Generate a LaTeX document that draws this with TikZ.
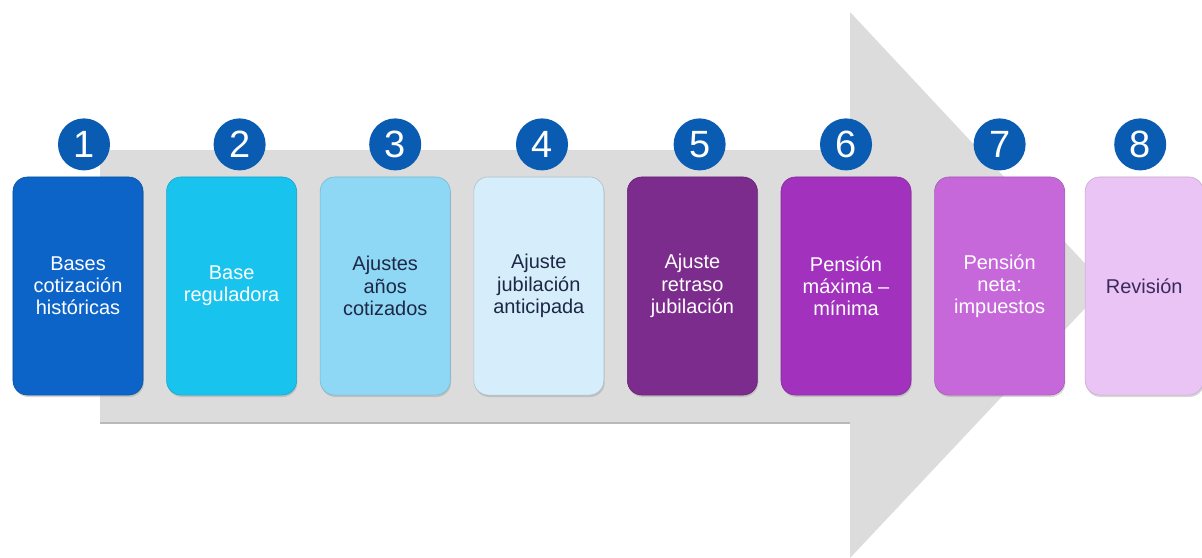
\documentclass[tikz,border=0pt]{standalone}
\usepackage{fontspec}
\setmainfont{Liberation Sans}
\usepackage{tikz}
\usetikzlibrary{positioning,shadows}

\definecolor{arrowgray}{RGB}{220,220,220}
\definecolor{numblue}{RGB}{10,92,178}
\definecolor{stepA}{RGB}{12,100,200}
\definecolor{stepB}{RGB}{24,195,238}
\definecolor{stepC}{RGB}{142,216,245}
\definecolor{stepD}{RGB}{214,238,251}
\definecolor{stepE}{RGB}{124,44,140}
\definecolor{stepF}{RGB}{162,50,190}
\definecolor{stepG}{RGB}{198,104,218}
\definecolor{stepH}{RGB}{234,196,244}
\definecolor{darktext}{RGB}{30,40,70}

\begin{document}
\begin{tikzpicture}[x=0.025cm, y=-0.025cm, node distance=0.575cm,
	stepbox/.style={rounded corners=0.36cm, minimum width=3.25cm, minimum height=5.45cm,
		align=center, inner sep=2pt, font=\fontsize{14.2}{15.8}\selectfont,
		drop shadow={opacity=0.3, shadow xshift=0.6pt, shadow yshift=-1.4pt}},
	num/.style={circle, fill=numblue, text=white, minimum size=1.3cm, inner sep=0pt,
		font=\fontsize{27}{30}\selectfont}]
	\useasboundingbox (0,0) rectangle (1202,558);
	\fill[white] (0,0) rectangle (1202,558);
	\fill[arrowgray] (100,150) -- (850,150) -- (850,12) -- (1106,286) -- (850,558) -- (850,423) -- (100,423) -- cycle;
	\draw[gray!55, line width=0.8pt] (100,423) -- (850,423);
	\node[stepbox, fill=stepA, draw=stepA!80!black, text=white] (b1) at (78,286) {Bases\\cotización\\históricas};
	\node[stepbox, fill=stepB, draw=stepB!85!black, text=white, right=of b1] (b2) {Base\\reguladora};
	\node[stepbox, fill=stepC, draw=stepC!85!black, text=darktext, right=of b2] (b3) {Ajustes\\años\\cotizados};
	\node[stepbox, fill=stepD, draw=stepD!80!black, text=darktext, right=of b3] (b4) {Ajuste\\jubilación\\anticipada};
	\node[stepbox, fill=stepE, draw=stepE!80!black, text=white, right=of b4] (b5) {Ajuste\\retraso\\jubilación};
	\node[stepbox, fill=stepF, draw=stepF!80!black, text=white, right=of b5] (b6) {Pensión\\máxima --\\mínima};
	\node[stepbox, fill=stepG, draw=stepG!85!black, text=white, right=of b6] (b7) {Pensión\\neta:\\impuestos};
	\node[stepbox, fill=stepH, draw=stepH!85!black, text=darktext!70!stepE, minimum width=2.95cm, right=0.5cm of b7] (b8) {Revisión};
	\node[num, above=0.15cm of b1, xshift=0.15cm] (n1) {1};
	\node[num, above=0.15cm of b2, xshift=0.2cm] (n2) {2};
	\node[num, above=0.15cm of b3, xshift=0.25cm] (n3) {3};
	\node[num, above=0.15cm of b4, xshift=0.08cm] (n4) {4};
	\node[num, above=0.15cm of b5, xshift=0.18cm] (n5) {5};
	\node[num, above=0.15cm of b6] (n6) {6};
	\node[num, above=0.15cm of b7] (n7) {7};
	\node[num, above=0.15cm of b8, xshift=-0.1cm] (n8) {8};
\end{tikzpicture}
\end{document}
